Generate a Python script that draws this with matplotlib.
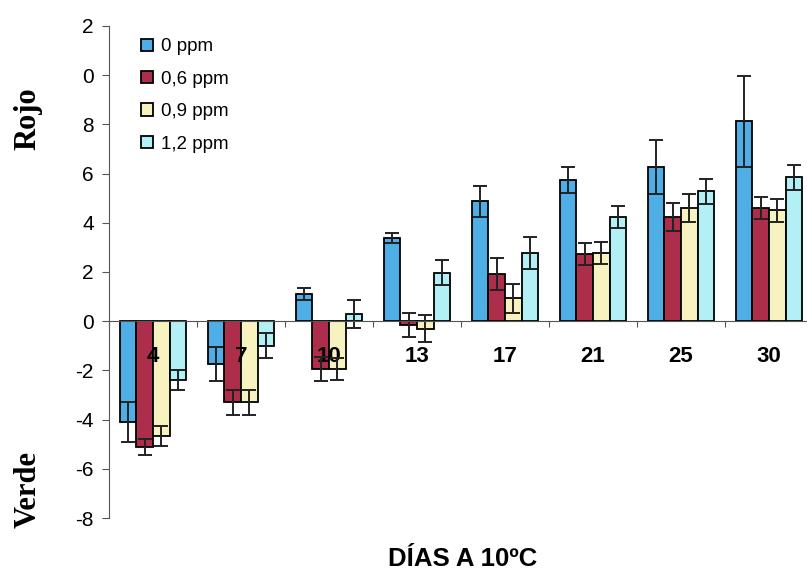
import matplotlib.pyplot as plt
import numpy as np

# datos
dias = ["4", "7", "10", "13", "17", "21", "25", "30"]
series = ["0 ppm", "0,6 ppm", "0,9 ppm", "1,2 ppm"]

ppm_0 = [-4.1, -1.75, 1.1, 3.37, 4.88, 5.73, 6.26, 8.13]
ppm_06 = [-5.12, -3.3, -1.95, -0.15, 1.9, 2.72, 4.23, 4.59]
ppm_09 = [-4.68, -3.3, -1.95, -0.3, 0.93, 2.76, 4.59, 4.5]
ppm_12 = [-2.4, -1.0, 0.3, 1.97, 2.76, 4.23, 5.28, 5.85]

err_0 = [0.8, 0.7, 0.25, 0.2, 0.63, 0.53, 1.1, 1.85]
err_06 = [0.33, 0.5, 0.5, 0.5, 0.65, 0.45, 0.57, 0.45]
err_09 = [0.4, 0.5, 0.45, 0.55, 0.6, 0.44, 0.57, 0.45]
err_12 = [0.4, 0.5, 0.57, 0.5, 0.65, 0.45, 0.5, 0.5]

y_ticks = [-8, -6, -4, -2, 0, 2, 4, 6, 8, 10, 12]
y_labels = ["-8", "-6", "-4", "-2", "0", "2", "4", "6", "8", "0", "2"]

colores = ["#4faee6", "#ad2e4a", "#f8f2c0", "#b3f0f6"]

fig = plt.figure(figsize=(8.07, 5.71), dpi=100)
ax = fig.add_axes([0.135, 0.0928, 0.8724, 0.8617])

x = np.arange(len(dias))
w = 0.19
valores = [ppm_0, ppm_06, ppm_09, ppm_12]
errores = [err_0, err_06, err_09, err_12]
for i in range(4):
    ax.bar(x + (i - 1.5) * w, valores[i], w, color=colores[i],
           edgecolor="black", linewidth=1.3, label=series[i])
    ax.errorbar(x + (i - 1.5) * w, valores[i], yerr=errores[i], fmt="none",
                ecolor="#222222", elinewidth=1.4, capsize=5, capthick=1.4)

ax.set_xlim(-0.5, 7.5)
ax.set_ylim(-8, 12)

ax.spines["top"].set_visible(False)
ax.spines["right"].set_visible(False)
ax.spines["bottom"].set_position(("data", 0))
ax.spines["left"].set_color("#555555")
ax.spines["bottom"].set_color("#555555")

ax.set_yticks(y_ticks)
ax.set_yticklabels(y_labels, fontsize=15, family="Liberation Sans")
ax.tick_params(axis="y", direction="out", length=5, color="#555555", pad=6)

ax.set_xticks(np.arange(-0.5, 8.0, 1.0))
ax.set_xticklabels([""] * 9)
ax.tick_params(axis="x", which="major", direction="out", length=4, color="#555555")
ax.set_xticks(x, minor=True)
ax.set_xticklabels(dias, minor=True, fontsize=16, fontweight="bold",
                   family="Liberation Sans")
ax.tick_params(axis="x", which="minor", length=0, pad=18)

ax.legend(loc="upper left", bbox_to_anchor=(0.035, 0.99), frameon=False,
          prop={"family": "Liberation Sans", "size": 13.5},
          handlelength=0.65, handleheight=0.65, handletextpad=0.4,
          labelspacing=0.82, borderaxespad=0)

fig.text(28 / 807, 0.793, "Rojo", rotation=90, ha="center", va="center",
         family="Liberation Serif", fontweight="bold", fontsize=22)
fig.text(28 / 807, 0.142, "Verde", rotation=90, ha="center", va="center",
         family="Liberation Serif", fontweight="bold", fontsize=22)
fig.text(463 / 807, 1 - 559 / 571, "DÍAS A 10ºC", ha="center", va="center",
         family="Liberation Sans", fontweight="bold", fontsize=18.5)

fig.savefig("out.png", dpi=100)
